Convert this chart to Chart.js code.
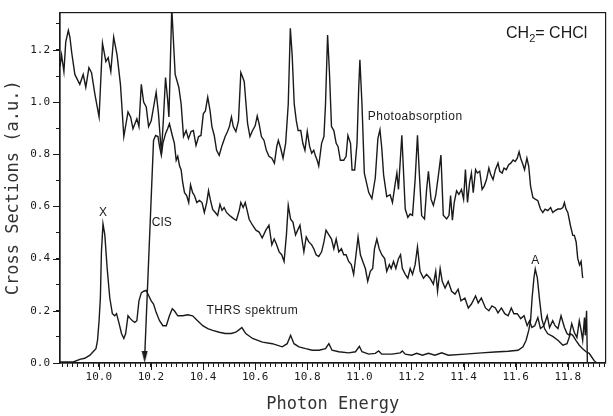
<!DOCTYPE html>
<html>
<head>
<meta charset="utf-8">
<script src="https://cdn.jsdelivr.net/npm/chart.js@4.4.1/dist/chart.umd.min.js"></script>
<style>
  html, body { margin: 0; padding: 0; background: #fff; }
</style>
</head>
<body>
<canvas id="spectrum" width="613" height="416"></canvas>
<script>
// CH2=CHCl cross sections vs photon energy (eV)

// photoabsorption (top curve)
const photoE = [9.851,9.857,9.866,9.873,9.883,9.889,9.896,9.908,9.927,9.940,9.950,9.962,9.972,9.985,10.001,10.014,10.027,10.036,10.046,10.057,
  10.070,10.083,10.096,10.112,10.122,10.131,10.146,10.154,10.163,10.172,10.182,10.191,10.201,10.220,10.229,10.240,10.248,10.256,10.264,10.269,
  10.280,10.293,10.307,10.316,10.325,10.335,10.344,10.354,10.363,10.373,10.383,10.392,10.401,10.409,10.418,10.427,10.434,10.443,10.452,10.462,
  10.473,10.485,10.494,10.501,10.509,10.516,10.526,10.536,10.545,10.551,10.558,10.564,10.571,10.580,10.590,10.600,10.608,10.615,10.624,10.634,
  10.643,10.653,10.664,10.674,10.683,10.689,10.698,10.707,10.717,10.727,10.735,10.742,10.750,10.758,10.765,10.775,10.783,10.791,10.800,10.809,
  10.817,10.825,10.832,10.838,10.844,10.855,10.864,10.870,10.878,10.885,10.893,10.902,10.911,10.918,10.927,10.940,10.949,10.956,10.966,10.972,
  10.982,10.991,10.997,11.002,11.010,11.019,11.036,11.048,11.061,11.071,11.079,11.086,11.093,11.105,11.118,11.127,11.138,11.144,11.150,11.163,
  11.176,11.186,11.195,11.204,11.214,11.223,11.230,11.239,11.250,11.258,11.265,11.275,11.284,11.293,11.303,11.313,11.322,11.335,11.344,11.350,
  11.357,11.364,11.373,11.382,11.392,11.400,11.407,11.415,11.423,11.430,11.437,11.446,11.453,11.462,11.471,11.479,11.488,11.497,11.504,11.513,
  11.522,11.532,11.539,11.548,11.555,11.564,11.573,11.581,11.590,11.598,11.606,11.613,11.619,11.628,11.634,11.643,11.650,11.657,11.666,11.675,
  11.685,11.695,11.704,11.713,11.723,11.734,11.742,11.751,11.762,11.772,11.781,11.787,11.793,11.800,11.810,11.819,11.825,11.832,11.838,11.845,
  11.851,11.857];
const photoV = [1.136,1.181,1.117,1.230,1.275,1.249,1.189,1.106,1.068,1.106,1.057,1.132,1.113,1.030,0.943,1.226,1.155,1.170,1.117,1.249,
  1.181,1.068,0.868,0.962,0.943,0.898,0.936,0.906,1.068,1.000,0.981,0.906,0.928,1.038,0.955,0.804,0.936,1.094,1.011,0.943,
  1.360,1.106,1.057,0.992,0.868,0.891,0.860,0.887,0.891,0.834,0.868,0.872,0.955,0.966,1.019,0.966,0.906,0.872,0.815,0.796,
  0.834,0.868,0.887,0.906,0.943,0.906,0.887,0.928,1.113,1.098,1.079,1.004,0.917,0.868,0.891,0.909,0.947,0.917,0.868,0.853,
  0.815,0.792,0.785,0.766,0.830,0.853,0.823,0.785,0.842,0.992,1.283,1.181,0.992,0.928,0.891,0.891,0.842,0.815,0.887,0.830,
  0.804,0.815,0.792,0.777,0.755,0.842,0.868,0.992,1.257,1.117,0.906,0.891,0.842,0.830,0.777,0.777,0.792,0.872,0.842,0.740,
  0.740,0.842,1.042,1.162,0.992,0.728,0.653,0.630,0.709,0.860,0.894,0.823,0.721,0.638,0.645,0.615,0.691,0.728,0.665,0.873,
  0.590,0.558,0.571,0.566,0.703,0.873,0.728,0.565,0.552,0.665,0.735,0.628,0.604,0.642,0.717,0.797,0.566,0.552,0.566,0.642,
  0.547,0.615,0.660,0.646,0.665,0.628,0.741,0.615,0.691,0.728,0.653,0.741,0.728,0.735,0.665,0.678,0.703,0.747,0.722,0.703,
  0.741,0.766,0.735,0.728,0.747,0.741,0.760,0.766,0.778,0.772,0.785,0.810,0.785,0.760,0.741,0.785,0.754,0.678,0.634,0.628,
  0.622,0.590,0.577,0.590,0.584,0.596,0.577,0.584,0.590,0.590,0.596,0.615,0.590,0.577,0.527,0.489,0.489,0.464,0.401,0.376,
  0.389,0.326];

// CIS (middle curve, onset marked by the arrow)
const cisE = [10.176,10.210,10.218,10.227,10.233,10.240,10.246,10.256,10.264,10.271,10.282,10.290,10.297,10.303,10.310,10.316,10.322,10.329,10.337,10.345,
  10.352,10.360,10.367,10.376,10.386,10.396,10.405,10.414,10.421,10.428,10.437,10.447,10.456,10.465,10.473,10.481,10.490,10.501,10.511,10.520,
  10.528,10.539,10.545,10.554,10.562,10.571,10.577,10.590,10.603,10.615,10.627,10.641,10.653,10.664,10.673,10.681,10.692,10.702,10.711,10.720,
  10.727,10.736,10.745,10.755,10.765,10.772,10.781,10.787,10.796,10.806,10.817,10.825,10.834,10.844,10.855,10.864,10.872,10.883,10.893,10.902,
  10.911,10.921,10.931,10.940,10.949,10.959,10.969,10.978,10.987,10.995,11.004,11.013,11.023,11.032,11.042,11.051,11.058,11.067,11.076,11.086,
  11.097,11.105,11.115,11.122,11.131,11.140,11.150,11.158,11.165,11.176,11.186,11.195,11.204,11.214,11.223,11.233,11.246,11.258,11.271,11.284,
  11.293,11.300,11.310,11.318,11.329,11.341,11.354,11.367,11.379,11.390,11.405,11.418,11.430,11.446,11.456,11.468,11.484,11.497,11.509,11.522,
  11.532,11.545,11.558,11.571,11.583,11.593,11.606,11.619,11.632,11.644,11.653,11.662,11.673,11.685,11.695,11.708,11.721,11.730,11.742,11.751,
  11.762,11.774,11.787,11.797,11.806,11.815,11.825,11.835,11.844,11.851,11.857,11.864,11.867,11.872,11.875];
const cisV = [0.023,0.853,0.872,0.868,0.830,0.796,0.842,0.879,0.898,0.917,0.872,0.842,0.777,0.792,0.755,0.740,0.691,0.653,0.642,0.615,
  0.683,0.653,0.642,0.615,0.623,0.615,0.577,0.615,0.660,0.626,0.589,0.577,0.566,0.608,0.585,0.596,0.577,0.566,0.558,0.551,
  0.547,0.585,0.615,0.596,0.615,0.577,0.551,0.528,0.509,0.502,0.479,0.509,0.528,0.453,0.475,0.457,0.426,0.415,0.389,0.491,
  0.604,0.551,0.540,0.491,0.513,0.528,0.464,0.426,0.483,0.464,0.453,0.438,0.415,0.408,0.426,0.464,0.509,0.491,0.475,0.438,
  0.475,0.426,0.438,0.415,0.415,0.389,0.377,0.340,0.415,0.483,0.415,0.389,0.362,0.313,0.351,0.362,0.438,0.475,0.438,0.415,
  0.400,0.351,0.377,0.362,0.389,0.362,0.400,0.415,0.362,0.340,0.325,0.362,0.340,0.377,0.445,0.351,0.325,0.340,0.325,0.302,
  0.351,0.275,0.362,0.313,0.287,0.313,0.275,0.264,0.283,0.238,0.249,0.211,0.226,0.257,0.230,0.249,0.211,0.200,0.219,0.211,
  0.192,0.211,0.189,0.181,0.211,0.189,0.189,0.170,0.181,0.143,0.162,0.136,0.143,0.174,0.132,0.143,0.181,0.136,0.162,0.143,
  0.132,0.181,0.136,0.113,0.106,0.151,0.117,0.098,0.162,0.125,0.087,0.174,0.106,0.200,0.004];

// THRS spektrum (bottom curve)
const thrsE = [9.851,9.902,9.927,9.946,9.966,9.978,9.989,9.995,10.001,10.006,10.010,10.016,10.023,10.032,10.042,10.052,10.061,10.068,10.078,10.087,
  10.096,10.103,10.112,10.121,10.129,10.138,10.146,10.154,10.163,10.172,10.182,10.192,10.201,10.210,10.220,10.233,10.246,10.259,10.271,10.282,
  10.290,10.303,10.322,10.341,10.360,10.379,10.399,10.418,10.437,10.462,10.485,10.508,10.526,10.539,10.549,10.564,10.590,10.628,10.666,10.704,
  10.723,10.736,10.749,10.768,10.794,10.819,10.845,10.870,10.883,10.895,10.921,10.959,10.985,11.000,11.010,11.036,11.061,11.074,11.086,11.125,
  11.157,11.165,11.176,11.201,11.220,11.242,11.265,11.290,11.316,11.341,11.405,11.469,11.520,11.571,11.609,11.628,11.640,11.650,11.657,11.663,
  11.670,11.675,11.683,11.692,11.700,11.711,11.723,11.742,11.762,11.781,11.797,11.810,11.819,11.831,11.844,11.857,11.870,11.882,11.891,11.901,
  11.911];
const thrsV = [0.004,0.004,0.014,0.018,0.030,0.043,0.055,0.087,0.162,0.250,0.426,0.533,0.491,0.363,0.250,0.189,0.181,0.189,0.151,0.113,
  0.094,0.113,0.181,0.170,0.162,0.156,0.162,0.238,0.269,0.275,0.278,0.257,0.238,0.226,0.194,0.162,0.143,0.143,0.181,0.208,
  0.200,0.181,0.181,0.185,0.181,0.162,0.143,0.132,0.125,0.118,0.113,0.113,0.118,0.128,0.136,0.113,0.094,0.080,0.074,0.062,
  0.074,0.106,0.074,0.062,0.055,0.049,0.049,0.055,0.074,0.049,0.043,0.039,0.043,0.064,0.043,0.034,0.037,0.046,0.034,0.034,
  0.039,0.046,0.034,0.030,0.037,0.030,0.037,0.030,0.039,0.030,0.034,0.039,0.042,0.045,0.049,0.062,0.087,0.125,0.162,0.250,
  0.326,0.360,0.326,0.238,0.169,0.131,0.112,0.102,0.087,0.068,0.074,0.112,0.106,0.087,0.068,0.055,0.043,0.037,0.024,0.009,
  0.000];

const xTickLabels = ['10.0','10.2','10.4','10.6','10.8','11.0','11.2','11.4','11.6','11.8'];
const yTickLabels = ['0.0','0.2','0.4','0.6','0.8','1.0','1.2'];

const xMin = 9.851, xMax = 11.945;
const yMin = 0, yMax = 1.343;

// text placed on the plot, anchored in data units
const notes = [
  { text: 'Photoabsorption', e: 11.032, v: 0.943, align: 'left' },
  { text: 'CIS', e: 10.203, v: 0.536, align: 'left' },
  { text: 'THRS spektrum', e: 10.413, v: 0.200, align: 'left' },
  { text: 'X', e: 10.016, v: 0.577, align: 'center' },
  { text: 'A', e: 11.675, v: 0.391, align: 'center' }
];
const formulaAt = { e: 11.563, v: 1.245 };

const ink = '#1a1a1a';
const monoFont = 'DejaVu Sans Mono';
const sansFont = 'Liberation Sans, Arial, sans-serif';

function pairs(xs, ys) {
  return xs.map((x, i) => ({ x: x, y: ys[i] }));
}

function tickText(value, labels) {
  const s = value.toFixed(1);
  return (Math.abs(value - parseFloat(s)) < 1e-6 && labels.includes(s)) ? s : '';
}

// narrow arrow head for the CIS onset
const arrowHead = document.createElement('canvas');
arrowHead.width = 7;
arrowHead.height = 12;
const actx = arrowHead.getContext('2d');
actx.fillStyle = ink;
actx.beginPath();
actx.moveTo(0.5, 0);
actx.lineTo(6.5, 0);
actx.lineTo(3.5, 12);
actx.closePath();
actx.fill();

const plotDecor = {
  id: 'plotDecor',
  afterDraw(chart) {
    const { ctx, chartArea: a, scales: { x, y } } = chart;
    ctx.save();

    // frame round the plot
    ctx.strokeStyle = ink;
    ctx.lineWidth = 1.2;
    ctx.strokeRect(a.left, a.top, a.right - a.left, a.bottom - a.top);

    // longer ticks where there is a label
    ctx.lineWidth = 1;
    ctx.beginPath();
    x.ticks.forEach((t, i) => {
      if (!t.label) return;
      const px = Math.round(x.getPixelForTick(i)) + 0.5;
      ctx.moveTo(px, a.bottom);
      ctx.lineTo(px, a.bottom + 7);
    });
    y.ticks.forEach((t, i) => {
      if (!t.label) return;
      const py = Math.round(y.getPixelForTick(i)) + 0.5;
      ctx.moveTo(a.left, py);
      ctx.lineTo(a.left - 7, py);
    });
    ctx.stroke();

    // labels on the curves
    ctx.fillStyle = ink;
    ctx.textBaseline = 'middle';
    ctx.font = '12px ' + sansFont;
    notes.forEach(n => {
      ctx.textAlign = n.align;
      ctx.letterSpacing = n.text.length > 3 ? '0.5px' : '0px';
      ctx.fillText(n.text, x.getPixelForValue(n.e), y.getPixelForValue(n.v));
    });
    ctx.letterSpacing = '0px';

    // CH2= CHCl
    let fx = x.getPixelForValue(formulaAt.e);
    const fy = y.getPixelForValue(formulaAt.v);
    ctx.textAlign = 'left';
    ctx.textBaseline = 'alphabetic';
    ctx.font = '16px ' + sansFont;
    ctx.fillText('CH', fx, fy);
    fx += ctx.measureText('CH').width;
    ctx.font = '11px ' + sansFont;
    ctx.fillText('2', fx, fy + 4);
    fx += ctx.measureText('2').width;
    ctx.font = '16px ' + sansFont;
    ctx.fillText('= CHCl', fx, fy);

    ctx.restore();
  }
};

const lineStyle = {
  showLine: true,
  borderColor: ink,
  borderWidth: 1.4,
  pointRadius: 0,
  tension: 0
};

new Chart(document.getElementById('spectrum'), {
  type: 'scatter',
  data: {
    datasets: [
      Object.assign({ label: 'Photoabsorption', data: pairs(photoE, photoV) }, lineStyle),
      Object.assign({ label: 'CIS', data: pairs(cisE, cisV) }, lineStyle, {
        clip: false,
        pointRadius: c => c.dataIndex === 0 ? 6 : 0,
        pointStyle: c => c.dataIndex === 0 ? arrowHead : 'circle'
      }),
      Object.assign({ label: 'THRS spektrum', data: pairs(thrsE, thrsV) }, lineStyle)
    ]
  },
  options: {
    responsive: false,
    animation: false,
    layout: { padding: { top: 7, right: 5, left: 0, bottom: 0 } },
    plugins: {
      legend: { display: false },
      tooltip: { enabled: false }
    },
    scales: {
      x: {
        type: 'linear',
        min: xMin,
        max: xMax,
        afterFit: s => { s.height = 53; },
        border: { display: true, color: ink, width: 1.2 },
        grid: { drawOnChartArea: false, drawTicks: true, tickLength: 4, color: ink },
        ticks: {
          stepSize: 0.02,
          includeBounds: false,
          autoSkip: false,
          maxRotation: 0,
          padding: 4,
          color: ink,
          font: { family: monoFont, size: 11 },
          callback: v => tickText(v, xTickLabels)
        },
        title: {
          display: true,
          text: 'Photon Energy',
          color: '#333',
          font: { family: monoFont, size: 17 },
          padding: { top: 0, bottom: 1 }
        }
      },
      y: {
        type: 'linear',
        min: yMin,
        max: yMax,
        afterFit: s => { s.width = 60; },
        border: { display: true, color: ink, width: 1.2 },
        grid: { drawOnChartArea: false, drawTicks: true, tickLength: 4, color: ink },
        ticks: {
          stepSize: 0.1,
          includeBounds: false,
          autoSkip: false,
          padding: 6,
          color: ink,
          font: { family: monoFont, size: 11 },
          callback: v => tickText(v, yTickLabels)
        },
        title: {
          display: true,
          text: 'Cross Sections (a.u.)',
          color: '#333',
          font: { family: monoFont, size: 17 },
          padding: { top: 3, bottom: 0 }
        }
      }
    }
  },
  plugins: [plotDecor]
});
</script>
</body>
</html>
